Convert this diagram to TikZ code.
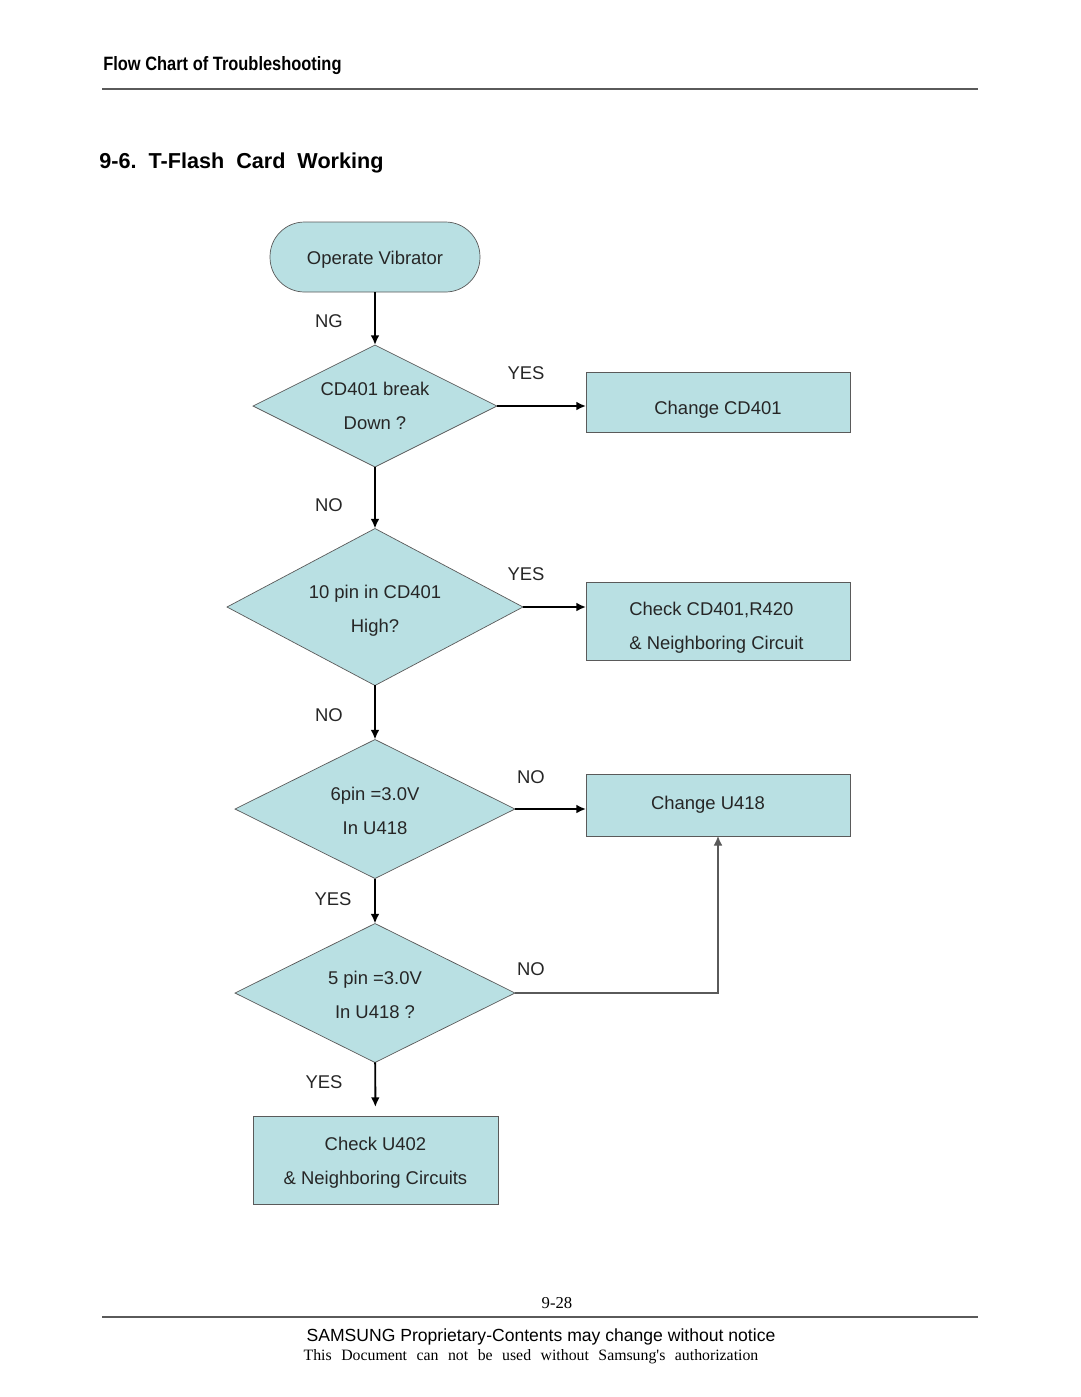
\documentclass[tikz,border=0pt]{standalone}
\usepackage{fontspec}
\setmainfont{Liberation Sans}
\newfontfamily\headfont[FakeStretch=0.85]{Liberation Sans}
\newfontfamily\notefont{Liberation Serif}
\usetikzlibrary{shapes.geometric,arrows.meta}
\definecolor{boxfill}{RGB}{185,224,227}
\definecolor{edgegray}{RGB}{90,90,90}
% move a line of text without changing the node size
\newcommand\nudge[3]{\raisebox{#2}[\height][\depth]{\makebox[\width][l]{\hspace*{#1}#3}}}

\begin{document}
\begin{tikzpicture}[x=0.02cm,y=-0.02cm,
		txt/.style={font=\fontsize{10.5}{19.3}\selectfont, text=black!85},
		term/.style={txt, rectangle, rounded corners=0.69cm, draw=edgegray, fill=boxfill,
			minimum width=4.2cm, minimum height=1.4cm, outer sep=0pt},
		decision/.style={txt, diamond, aspect=2, inner sep=0pt, outer sep=0pt, align=center,
			draw=edgegray, fill=boxfill},
		proc/.style={txt, rectangle, draw=edgegray, fill=boxfill, align=center, outer sep=0pt},
		lbl/.style={txt},
		flow/.style={line width=1.1pt, -{Latex[length=5.5pt,width=5pt]}},
		back/.style={draw=edgegray, line width=0.6pt, -{Latex[length=5.5pt,width=5pt]}}]
		\useasboundingbox (0,0) rectangle (1080,1397);

		% page head
		\node[anchor=west, inner sep=0pt] (head) at (103,66) {\headfont\bfseries\fontsize{11}{12}\selectfont Flow Chart of Troubleshooting};
		\draw[edgegray, line width=0.8pt] (102,89) -- (978,89);
		\node[anchor=west, inner sep=0pt] (title) at (99,163) {\bfseries\fontsize{12.3}{15}\selectfont 9-6.\ \ T-Flash\ \ Card\ \ Working};

		% chart
		\node[term] (start) at (375,257) {\nudge{0pt}{-0.06cm}{Operate Vibrator}};
		\node[decision, minimum width=4.88cm, minimum height=2.44cm] (d1) at (375,406) {CD401 break\\Down ?};
		\node[proc, minimum width=5.28cm, minimum height=1.2cm] (b1) at (718,402) {\nudge{0pt}{-0.15cm}{Change CD401}};
		\node[decision, minimum width=5.92cm, minimum height=3.14cm] (d2) at (375,607)
			{\nudge{0pt}{-0.07cm}{10 pin in CD401}\\\nudge{0pt}{-0.07cm}{High?}};
		\node[proc, align=left, minimum width=5.28cm, minimum height=1.56cm] (b2) at (718,621)
			{\nudge{-0.06cm}{-0.13cm}{Check CD401,R420}\\\nudge{-0.06cm}{-0.13cm}{\& Neighboring Circuit}};
		\node[decision, minimum width=5.6cm, minimum height=2.78cm] (d3) at (375,809)
			{\nudge{0pt}{-0.03cm}{6pin =3.0V}\\\nudge{0pt}{-0.03cm}{In U418}};
		\node[proc, minimum width=5.28cm, minimum height=1.24cm] (b3) at (718,805) {\nudge{-0.4cm}{0pt}{Change U418}};
		\node[decision, minimum width=5.6cm, minimum height=2.78cm] (d4) at (375,993)
			{\nudge{0pt}{-0.04cm}{5 pin =3.0V}\\\nudge{0pt}{-0.04cm}{In U418 ?}};
		\node[proc, minimum width=4.9cm, minimum height=1.76cm] (b4) at (375.5,1160)
			{\nudge{0pt}{-0.05cm}{Check U402}\\\nudge{0pt}{-0.05cm}{\& Neighboring Circuits}};

		\draw[flow] (start) -- (d1);
		\draw[flow] (d1) -- (b1.west |- d1.east);
		\draw[flow] (d1) -- (d2);
		\draw[flow] (d2) -- (b2.west |- d2.east);
		\draw[flow] (d2) -- (d3);
		\draw[flow] (d3) -- (b3.west |- d3.east);
		\draw[flow] (d3) -- (d4);
		\draw[back] (d4.east) -| (b3.south);
		\draw[flow, shorten >=0.18cm] (d4) -- (b4);

		\node[lbl] (ng) at (329,321) {NG};
		\node[lbl] (yes1) at (526,373) {YES};
		\node[lbl] (no1) at (329,505) {NO};
		\node[lbl] (yes2) at (526,574) {YES};
		\node[lbl] (no2) at (329,715) {NO};
		\node[lbl] (no3) at (531,777) {NO};
		\node[lbl] (yes3) at (333,899) {YES};
		\node[lbl] (no4) at (531,969) {NO};
		\node[lbl] (yes4) at (324,1082) {YES};

		% page foot
		\node (pg) at (557,1303) {\notefont\fontsize{9.5}{11}\selectfont 9-28};
		\draw[edgegray, line width=0.8pt] (102,1317) -- (978,1317);
		\node (prop) at (541,1337) {\fontsize{10}{12}\selectfont SAMSUNG Proprietary-Contents may change without notice};
		\node (auth) at (531,1357) {\notefont\fontsize{9}{11}\selectfont\spaceskip=0.6em This Document can not be used without Samsung's authorization};
	\end{tikzpicture}
\end{document}
